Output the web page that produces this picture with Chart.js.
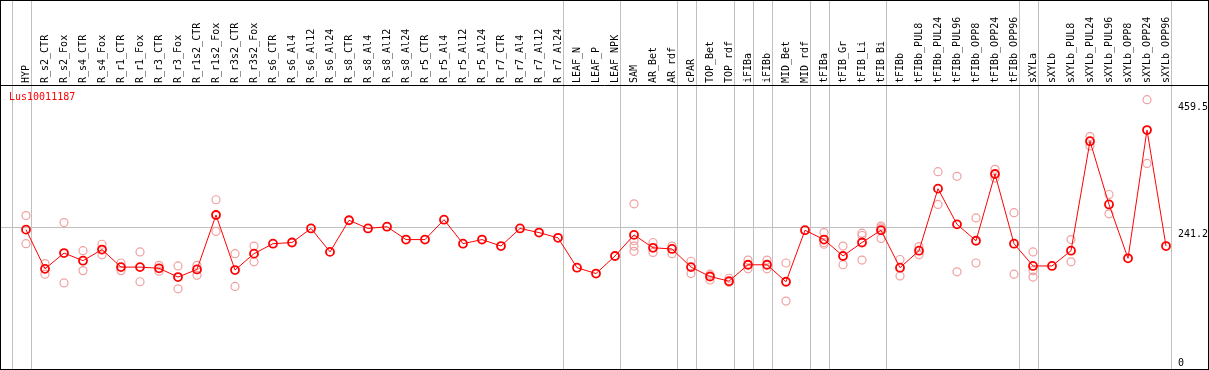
<!DOCTYPE html>
<html>
<head>
<meta charset="utf-8">
<script src="https://cdn.jsdelivr.net/npm/chart.js@4.4.1/dist/chart.umd.min.js"></script>
<style>
  body { margin: 0; background: #fff; }
  #wrap { width: 1209px; height: 370px; }
</style>
</head>
<body>
<div id="wrap"><canvas id="myChart" width="1209" height="370"></canvas></div>
<script>
var geneName = "Lus10011187";

var categories = ["HYP", "R_s2_CTR", "R_s2_Fox", "R_s4_CTR", "R_s4_Fox", "R_r1_CTR", "R_r1_Fox",
  "R_r3_CTR", "R_r3_Fox", "R_r1s2_CTR", "R_r1s2_Fox", "R_r3s2_CTR", "R_r3s2_Fox",
  "R_s6_CTR", "R_s6_Al4", "R_s6_Al12", "R_s6_Al24", "R_s8_CTR", "R_s8_Al4", "R_s8_Al12", "R_s8_Al24",
  "R_r5_CTR", "R_r5_Al4", "R_r5_Al12", "R_r5_Al24", "R_r7_CTR", "R_r7_Al4", "R_r7_Al12", "R_r7_Al24",
  "LEAF_N", "LEAF_P", "LEAF_NPK", "SAM", "AR_Bet", "AR_rdf", "cPAR", "TOP_Bet", "TOP_rdf",
  "iFIBa", "iFIBb", "MID_Bet", "MID_rdf", "tFIBa", "tFIB_Gr", "tFIB_Li", "tFIB_Bi",
  "tFIBb", "tFIBb_PUL8", "tFIBb_PUL24", "tFIBb_PUL96", "tFIBb_OPP8", "tFIBb_OPP24", "tFIBb_OPP96",
  "sXYLa", "sXYLb", "sXYLb_PUL8", "sXYLb_PUL24", "sXYLb_PUL96", "sXYLb_OPP8", "sXYLb_OPP24", "sXYLb_OPP96"];

var meanValues = [238, 171, 198, 185, 204, 174, 174, 172, 157, 170, 263, 169, 197,
  214, 216, 240, 200, 254, 240, 243, 221, 221, 255, 214, 221, 210, 240, 233, 224,
  173, 163, 193, 229, 207, 205, 174, 158, 150, 178, 178, 149, 237,
  221, 193, 216, 237, 173, 202, 308, 247, 219, 333, 214,
  176, 176, 202, 389, 281, 189, 408, 210];

var replicates = [[262, 214], [180, 162], [250, 147], [202, 168], [213, 195], [181, 168], [200, 149],
  [177, 167], [176, 137], [177, 160], [289, 235], [197, 141], [210, 183],
  [], [], [], [], [], [], [], [], [], [], [], [], [], [], [], [],
  [], [], [], [282, 219, 210, 201], [216, 199], [210, 197], [184, 163], [162, 152], [155, 148],
  [186, 171], [186, 171], [181, 116], [], [233, 216, 213], [210, 178], [232, 228, 186], [244, 241, 223],
  [187, 159], [209, 195], [337, 281], [329, 166], [258, 181], [341, 326], [267, 162],
  [200, 168, 157], [], [221, 183], [397, 381], [298, 265], [], [460, 351], []];

// last category index of each group (vertical separators)
var groupEnds = [-1, 0, 28, 31, 34, 35, 37, 38, 39, 41, 42, 45, 52, 53, 60];

var yTicks = [0, 241.2, 459.5];

var monoFont = "'DejaVu Sans Mono', 'Liberation Mono', monospace";

var meanData = meanValues.map(function(v, i){ return {x: i, y: v}; });
var repData = [];
replicates.forEach(function(list, i){
  list.forEach(function(v){ repData.push({x: i, y: v}); });
});

var framePlugin = {
  id: 'frame',
  beforeDatasetsDraw: function(chart){
    var c = chart.ctx, xs = chart.scales.x;
    c.save();
    c.strokeStyle = '#c0c0c0';
    c.lineWidth = 1;
    groupEnds.forEach(function(k){
      var px = Math.round(xs.getPixelForValue(k + 0.24)) + 0.5;
      c.beginPath();
      c.moveTo(px, 0);
      c.lineTo(px, chart.chartArea.bottom);
      c.stroke();
    });
    c.restore();
  },
  afterDraw: function(chart){
    var c = chart.ctx, ys = chart.scales.y, area = chart.chartArea;
    c.save();
    c.strokeStyle = '#000';
    c.lineWidth = 1;
    c.strokeRect(0.5, 0.5, 1208, 369);
    c.beginPath();
    c.moveTo(0, 85.5);
    c.lineTo(1209, 85.5);
    c.stroke();
    c.font = '10px ' + monoFont;
    c.fillStyle = '#ff0000';
    c.textBaseline = 'middle';
    c.textAlign = 'left';
    c.fillText(geneName, 9, 97);
    c.fillStyle = '#000';
    c.textBaseline = 'top';
    yTicks.forEach(function(v){
      var py = Math.min(ys.getPixelForValue(v) + 2, area.bottom - 11);
      c.fillText(String(v), 1178, py);
    });
    c.restore();
  }
};

var ctx = document.getElementById('myChart').getContext('2d');
var myChart = new Chart(ctx, {
  type: 'line',
  data: {
    datasets: [{
      label: 'mean',
      data: meanData,
      borderColor: '#ff0000',
      borderWidth: 1,
      backgroundColor: 'transparent',
      pointRadius: 4,
      pointBorderWidth: 1.8,
      pointBorderColor: '#ff0000',
      pointBackgroundColor: 'transparent',
      tension: 0,
      clip: false,
      order: 0
    }, {
      label: 'replicates',
      data: repData,
      showLine: false,
      pointRadius: 4,
      pointBorderWidth: 1.2,
      pointBorderColor: '#f0a0a0',
      pointBackgroundColor: 'transparent',
      clip: false,
      order: 1
    }]
  },
  options: {
    responsive: false,
    animation: false,
    layout: { autoPadding: false, padding: { left: 1, right: 0, top: 0, bottom: 1 } },
    plugins: { legend: { display: false }, tooltip: { enabled: false } },
    scales: {
      x: {
        type: 'linear',
        position: 'top',
        min: -25 / 19,
        max: 1145 / 19,
        afterBuildTicks: function(scale){
          scale.ticks = categories.map(function(c, i){ return {value: i}; });
        },
        afterFit: function(scale){
          scale.height = 85;
          scale.paddingLeft = 0;
          scale.paddingRight = 0;
        },
        grid: { display: false, drawTicks: false },
        border: { display: false },
        ticks: {
          autoSkip: false,
          minRotation: 90,
          maxRotation: 90,
          padding: 2,
          labelOffset: 12,
          color: '#000',
          font: { family: monoFont, size: 10 },
          callback: function(value){ return categories[value]; }
        }
      },
      y: {
        position: 'right',
        min: 0,
        max: 485,
        afterBuildTicks: function(scale){
          scale.ticks = yTicks.map(function(v){ return {value: v}; });
        },
        afterFit: function(scale){ scale.width = 38; },
        grid: {
          drawTicks: false,
          color: function(c){ return c.tick && c.tick.value === 241.2 ? '#c0c0c0' : 'transparent'; }
        },
        border: { display: false },
        ticks: { display: false }
      }
    }
  },
  plugins: [framePlugin]
});
</script>
</body>
</html>
